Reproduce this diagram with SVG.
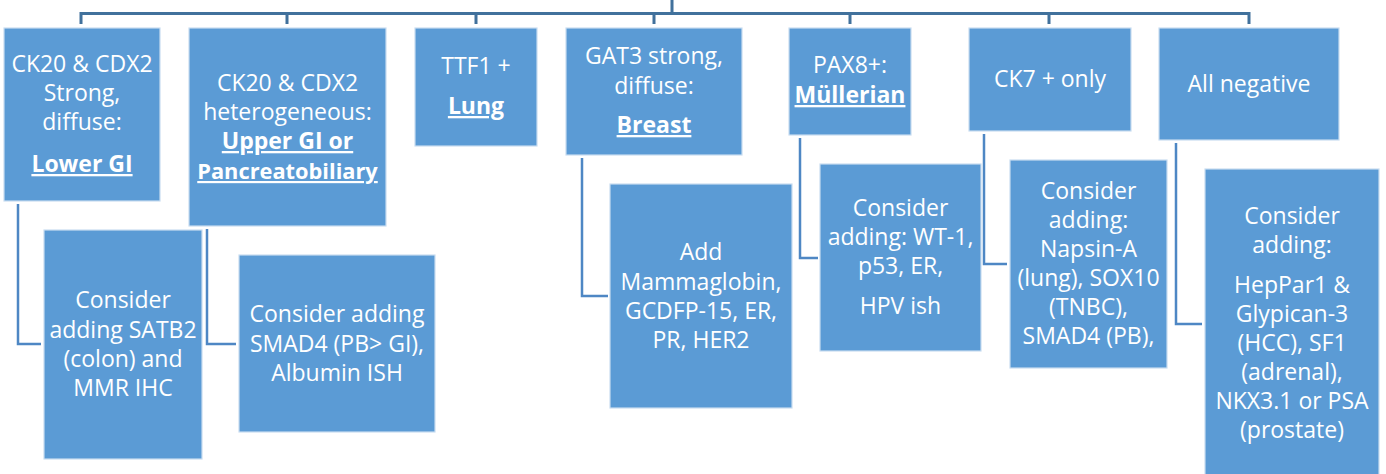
<svg xmlns="http://www.w3.org/2000/svg" width="1386" height="474" viewBox="0 0 1386 474">
<style>
.box{fill:#5B9BD5;stroke:#C9DDF1;stroke-width:1.2}
.t{font-family:"Open Sans","Liberation Sans",sans-serif;font-size:23px;fill:#ffffff;text-anchor:middle}
.b{font-weight:bold;text-decoration:underline}
.top{fill:none;stroke:#41719C;stroke-width:3}
.el{fill:none;stroke:#4E87C4;stroke-width:2.5}
</style>
<rect width="1386" height="474" fill="#ffffff"/>
<g id="connectors">
<path class="top" d="M672,0 V13.5 M81,24 V13.5 H1249 V24 M287,13.5 V24 M476,13.5 V24 M654,13.5 V24 M850,13.5 V24 M1049,13.5 V24"/>
<path class="el" d="M18,204 V344 H41"/>
<path class="el" d="M207,229 V344 H236"/>
<path class="el" d="M582,158 V296 H608"/>
<path class="el" d="M800,138 V258 H818"/>
<path class="el" d="M984,134 V264 H1007"/>
<path class="el" d="M1176,143 V324 H1202"/>
</g>
<g id="n1">
<rect class="box" x="4" y="28" width="156" height="173"/>
<text class="t" x="82" y="72">CK20 &amp; CDX2</text>
<text class="t" x="82" y="101">Strong,</text>
<text class="t" x="82" y="130">diffuse:</text>
<text class="t b" x="82" y="172">Lower GI</text>
</g>
<g id="n2">
<rect class="box" x="189" y="28" width="197" height="198"/>
<text class="t" x="287.5" y="91">CK20 &amp; CDX2</text>
<text class="t" x="287.5" y="120">heterogeneous:</text>
<text class="t b" x="287.5" y="149">Upper GI or</text>
<text class="t b" x="287.5" y="179" style="font-size:21.8px">Pancreatobiliary</text>
</g>
<g id="n3">
<rect class="box" x="415" y="28" width="122" height="118"/>
<text class="t" x="476" y="74">TTF1 +</text>
<text class="t b" x="476" y="114">Lung</text>
</g>
<g id="n4">
<rect class="box" x="566" y="28" width="176" height="127"/>
<text class="t" x="654" y="64">GAT3 strong,</text>
<text class="t" x="654" y="94">diffuse:</text>
<text class="t b" x="654" y="133">Breast</text>
</g>
<g id="n5">
<rect class="box" x="789" y="28" width="122" height="107"/>
<text class="t" x="850" y="73">PAX8+:</text>
<text class="t b" x="850" y="103">Müllerian</text>
</g>
<g id="n6">
<rect class="box" x="969" y="28" width="162" height="103"/>
<text class="t" x="1050" y="87">CK7 + only</text>
</g>
<g id="n7">
<rect class="box" x="1159" y="28" width="180" height="112"/>
<text class="t" x="1249" y="92">All negative</text>
</g>
<g id="c1">
<rect class="box" x="44" y="230" width="158" height="229"/>
<text class="t" x="123" y="308">Consider</text>
<text class="t" x="123" y="338">adding SATB2</text>
<text class="t" x="123" y="367">(colon) and</text>
<text class="t" x="123" y="396">MMR IHC</text>
</g>
<g id="c2">
<rect class="box" x="239" y="255" width="196" height="177"/>
<text class="t" x="337" y="322">Consider adding</text>
<text class="t" x="337" y="352">SMAD4 (PB&gt; GI),</text>
<text class="t" x="337" y="381">Albumin ISH</text>
</g>
<g id="c4">
<rect class="box" x="610" y="184" width="182" height="224"/>
<text class="t" x="701" y="260">Add</text>
<text class="t" x="701" y="290">Mammaglobin,</text>
<text class="t" x="701" y="319">GCDFP-15, ER,</text>
<text class="t" x="701" y="348">PR, HER2</text>
</g>
<g id="c5">
<rect class="box" x="820" y="164" width="161" height="187"/>
<text class="t" x="900.5" y="216">Consider</text>
<text class="t" x="900.5" y="245">adding: WT-1,</text>
<text class="t" x="900.5" y="274">p53, ER,</text>
<text class="t" x="900.5" y="314">HPV ish</text>
</g>
<g id="c6">
<rect class="box" x="1010" y="160" width="157" height="208"/>
<text class="t" x="1088.5" y="199">Consider</text>
<text class="t" x="1088.5" y="228">adding:</text>
<text class="t" x="1088.5" y="257">Napsin-A</text>
<text class="t" x="1088.5" y="286">(lung), SOX10</text>
<text class="t" x="1088.5" y="315">(TNBC),</text>
<text class="t" x="1088.5" y="344">SMAD4 (PB),</text>
</g>
<g id="c7">
<rect class="box" x="1205" y="169" width="174" height="310"/>
<text class="t" x="1292" y="224">Consider</text>
<text class="t" x="1292" y="253">adding:</text>
<text class="t" x="1292" y="293">HepPar1 &amp;</text>
<text class="t" x="1292" y="322">Glypican-3</text>
<text class="t" x="1292" y="351">(HCC), SF1</text>
<text class="t" x="1292" y="380">(adrenal),</text>
<text class="t" x="1292" y="409">NKX3.1 or PSA</text>
<text class="t" x="1292" y="438">(prostate)</text>
</g>
</svg>
